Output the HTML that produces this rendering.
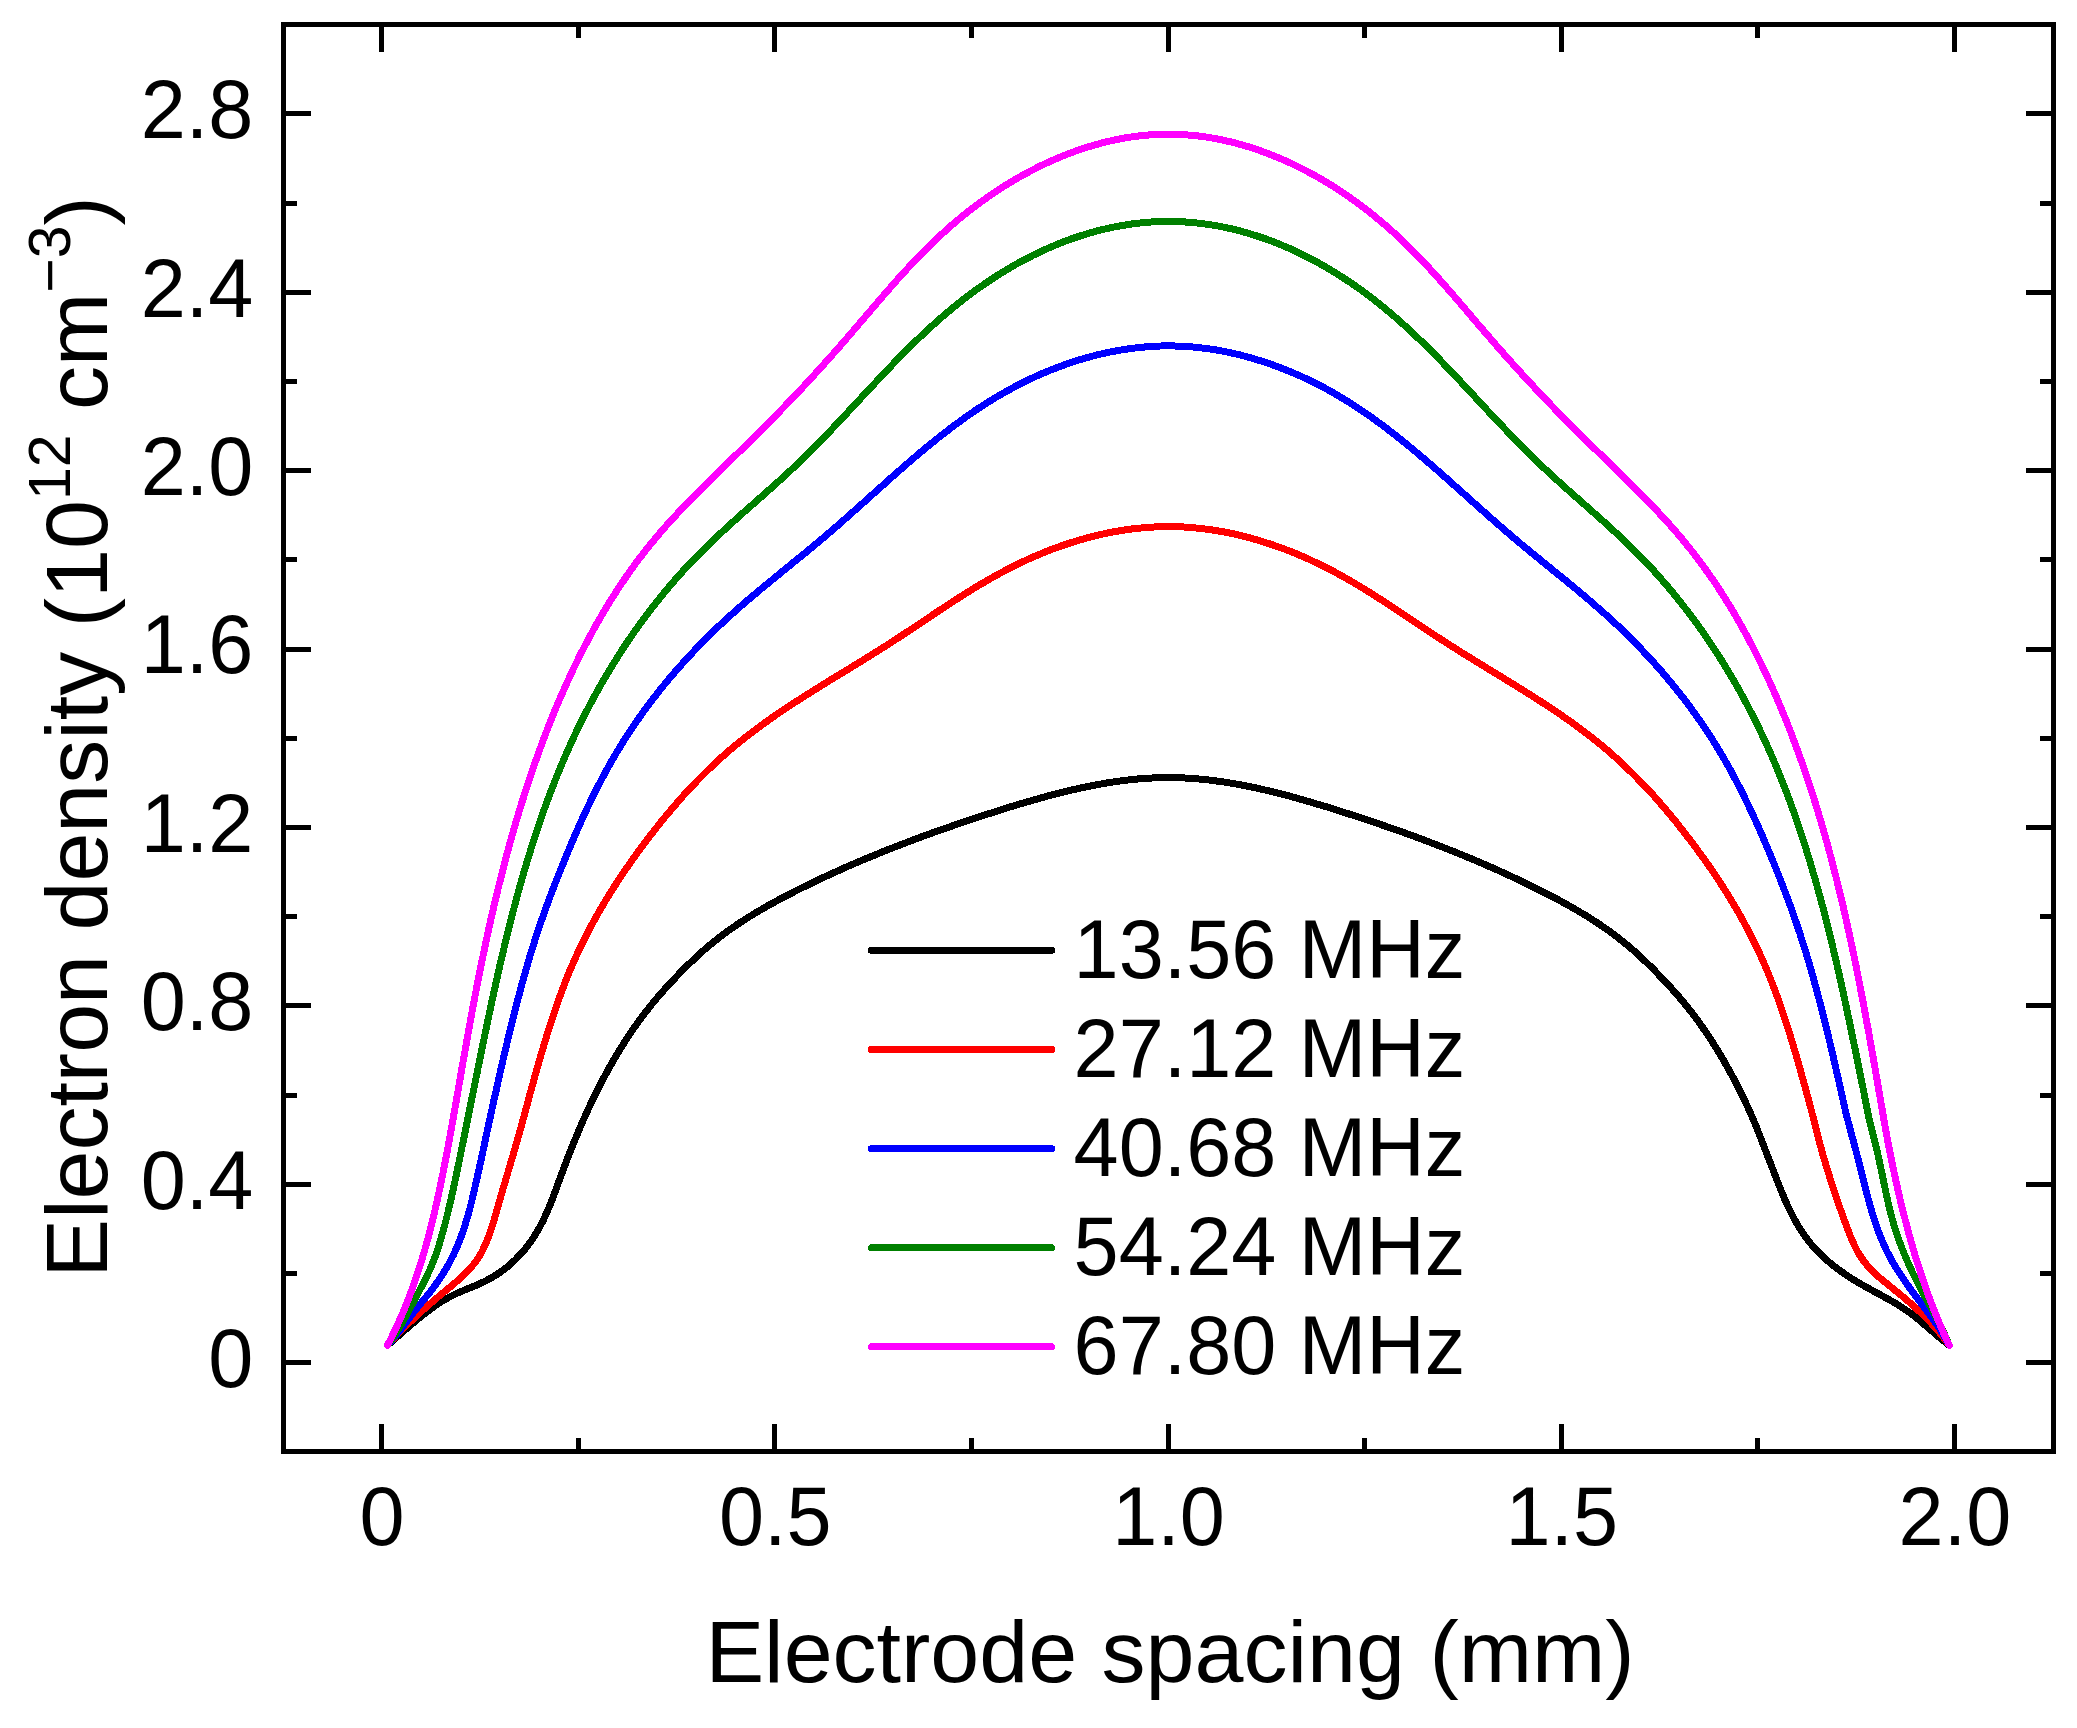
<!DOCTYPE html><html><head><meta charset="utf-8"><title>Electron density</title>
<style>html,body{margin:0;padding:0;background:#fff;overflow:hidden}svg{display:block}text{font-family:"Liberation Sans",sans-serif;fill:#000}</style></head><body>
<svg width="2077" height="1728" viewBox="0 0 2077 1728">
<rect x="0" y="0" width="2077" height="1728" fill="#fff"/>
<path d="M387.5 1345.3C389.3 1343.7 394.6 1339.1 398.1 1336.0C401.7 1332.9 405.2 1329.8 408.7 1326.7C412.3 1323.7 415.9 1320.6 419.5 1317.7C423.2 1314.7 426.9 1311.8 430.7 1309.0C434.5 1306.2 438.3 1303.5 442.3 1301.1C446.3 1298.6 450.5 1296.4 454.7 1294.4C459.0 1292.3 463.4 1290.6 467.7 1288.8C472.0 1287.0 476.4 1285.3 480.7 1283.3C484.9 1281.3 489.2 1279.2 493.2 1276.8C497.2 1274.4 501.1 1271.7 504.8 1268.9C508.5 1266.0 512.1 1262.9 515.4 1259.6C518.8 1256.3 522.0 1252.8 525.0 1249.2C527.9 1245.6 530.7 1241.8 533.3 1237.8C535.9 1233.9 538.2 1229.8 540.5 1225.7C542.7 1221.6 544.7 1217.3 546.6 1213.0C548.5 1208.7 550.2 1204.3 552.0 1200.0C553.7 1195.6 555.3 1191.2 556.9 1186.8C558.6 1182.4 560.2 1177.9 561.8 1173.5C563.5 1169.1 565.1 1164.7 566.8 1160.3C568.5 1156.0 570.2 1151.6 571.9 1147.2C573.7 1142.9 575.5 1138.5 577.3 1134.2C579.1 1129.8 580.9 1125.5 582.8 1121.2C584.7 1116.9 586.7 1112.6 588.6 1108.4C590.6 1104.1 592.6 1099.8 594.7 1095.6C596.8 1091.4 598.9 1087.2 601.0 1083.0C603.2 1078.9 605.4 1074.7 607.7 1070.6C609.9 1066.5 612.3 1062.4 614.6 1058.3C617.0 1054.3 619.5 1050.2 621.9 1046.3C624.4 1042.3 627.0 1038.3 629.6 1034.4C632.2 1030.5 634.9 1026.7 637.7 1022.8C640.4 1019.0 643.2 1015.3 646.1 1011.5C649.0 1007.8 651.9 1004.1 654.9 1000.5C657.9 996.9 661.0 993.4 664.1 989.9C667.3 986.4 670.5 982.9 673.7 979.5C676.9 976.1 680.2 972.7 683.5 969.4C686.8 966.1 690.2 962.8 693.6 959.5C697.0 956.3 700.5 953.1 704.0 950.0C707.6 946.9 711.2 943.9 714.8 941.0C718.5 938.0 722.2 935.2 726.0 932.4C729.8 929.6 733.7 926.9 737.6 924.3C741.5 921.7 745.4 919.1 749.4 916.7C753.4 914.2 757.4 911.8 761.5 909.4C765.6 907.0 769.7 904.7 773.8 902.5C777.9 900.2 782.1 898.0 786.2 895.8C790.4 893.7 794.6 891.5 798.8 889.4C803.0 887.3 807.2 885.3 811.4 883.2C815.7 881.2 819.9 879.1 824.2 877.1C828.4 875.2 832.7 873.2 837.0 871.3C841.3 869.3 845.6 867.4 849.9 865.5C854.2 863.6 858.5 861.8 862.8 860.0C867.2 858.1 871.5 856.3 875.9 854.6C880.2 852.8 884.6 851.0 888.9 849.3C893.3 847.6 897.7 845.8 902.1 844.2C906.5 842.5 910.9 840.8 915.3 839.2C919.7 837.5 924.1 835.9 928.5 834.3C932.9 832.7 937.4 831.1 941.8 829.6C946.2 828.0 950.7 826.5 955.1 824.9C959.5 823.4 964.0 821.9 968.5 820.4C972.9 818.9 977.4 817.4 981.8 816.0C986.3 814.5 990.8 813.1 995.3 811.7C999.7 810.2 1004.2 808.8 1008.7 807.4C1013.2 806.0 1017.7 804.7 1022.2 803.3C1026.7 802.0 1031.2 800.7 1035.8 799.4C1040.3 798.1 1044.8 796.9 1049.4 795.6C1053.9 794.4 1058.4 793.3 1063.0 792.1C1067.6 791.0 1072.1 789.9 1076.7 788.9C1081.3 787.9 1085.9 786.9 1090.5 786.0C1095.1 785.0 1099.8 784.2 1104.4 783.4C1109.0 782.6 1113.7 781.9 1118.3 781.2C1123.0 780.6 1127.7 780.0 1132.3 779.5C1137.0 779.0 1141.7 778.6 1146.4 778.3C1151.1 778.0 1155.8 777.8 1160.5 777.7C1165.2 777.6 1169.9 777.6 1174.6 777.6C1179.3 777.7 1184.0 777.9 1188.7 778.2C1193.3 778.5 1198.0 778.9 1202.7 779.3C1207.4 779.8 1212.1 780.3 1216.7 781.0C1221.4 781.6 1226.0 782.3 1230.7 783.1C1235.3 783.8 1239.9 784.7 1244.5 785.6C1249.2 786.5 1253.8 787.4 1258.3 788.5C1262.9 789.5 1267.5 790.5 1272.1 791.7C1276.6 792.8 1281.2 793.9 1285.7 795.1C1290.3 796.3 1294.8 797.6 1299.3 798.9C1303.9 800.1 1308.4 801.4 1312.9 802.8C1317.4 804.1 1321.9 805.5 1326.4 806.8C1330.9 808.2 1335.4 809.6 1339.9 811.1C1344.3 812.5 1348.8 813.9 1353.3 815.4C1357.7 816.8 1362.2 818.3 1366.7 819.8C1371.1 821.3 1375.6 822.8 1380.0 824.3C1384.5 825.8 1388.9 827.4 1393.4 828.9C1397.8 830.5 1402.2 832.0 1406.6 833.6C1411.1 835.2 1415.5 836.8 1419.9 838.5C1424.3 840.1 1428.7 841.8 1433.1 843.5C1437.5 845.1 1441.9 846.8 1446.2 848.6C1450.6 850.3 1455.0 852.0 1459.3 853.8C1463.7 855.6 1468.0 857.4 1472.3 859.2C1476.7 861.0 1481.0 862.9 1485.3 864.7C1489.6 866.6 1493.9 868.5 1498.2 870.4C1502.5 872.4 1506.8 874.3 1511.0 876.3C1515.3 878.3 1519.5 880.3 1523.8 882.3C1528.0 884.4 1532.2 886.5 1536.4 888.6C1540.6 890.7 1544.8 892.8 1549.0 894.9C1553.2 897.1 1557.3 899.3 1561.5 901.5C1565.6 903.8 1569.7 906.1 1573.8 908.4C1577.9 910.8 1581.9 913.2 1585.9 915.6C1589.9 918.1 1593.9 920.6 1597.8 923.2C1601.7 925.8 1605.6 928.5 1609.4 931.2C1613.2 934.0 1617.0 936.8 1620.6 939.7C1624.3 942.7 1627.9 945.7 1631.5 948.7C1635.0 951.8 1638.5 955.0 1642.0 958.2C1645.4 961.4 1648.8 964.7 1652.1 968.0C1655.4 971.3 1658.7 974.7 1661.9 978.1C1665.2 981.5 1668.4 984.9 1671.5 988.4C1674.7 991.9 1677.8 995.4 1680.8 999.0C1683.9 1002.6 1686.8 1006.3 1689.7 1010.0C1692.6 1013.7 1695.4 1017.4 1698.2 1021.2C1701.0 1025.0 1703.7 1028.9 1706.3 1032.8C1708.9 1036.7 1711.5 1040.6 1714.0 1044.6C1716.5 1048.6 1719.0 1052.6 1721.4 1056.6C1723.7 1060.7 1726.1 1064.8 1728.4 1068.9C1730.6 1073.0 1732.9 1077.1 1735.1 1081.3C1737.2 1085.4 1739.3 1089.5 1741.4 1093.7C1743.4 1097.9 1745.5 1102.2 1747.5 1106.4C1749.4 1110.7 1751.3 1115.0 1753.2 1119.3C1755.0 1123.6 1756.8 1128.0 1758.5 1132.4C1760.2 1136.7 1761.9 1141.1 1763.6 1145.5C1765.3 1149.9 1767.0 1154.3 1768.7 1158.7C1770.4 1163.0 1772.1 1167.4 1773.8 1171.8C1775.4 1176.2 1777.1 1180.6 1778.9 1185.0C1780.6 1189.3 1782.4 1193.7 1784.2 1198.0C1786.1 1202.3 1788.0 1206.6 1790.1 1210.8C1792.2 1215.1 1794.3 1219.2 1796.7 1223.3C1799.0 1227.4 1801.5 1231.4 1804.2 1235.2C1806.9 1239.0 1809.8 1242.8 1812.9 1246.3C1816.0 1249.9 1819.3 1253.2 1822.7 1256.4C1826.1 1259.7 1829.7 1262.7 1833.4 1265.6C1837.1 1268.6 1840.9 1271.3 1844.8 1274.0C1848.6 1276.6 1852.6 1279.2 1856.6 1281.6C1860.7 1284.0 1864.8 1286.3 1868.9 1288.6C1873.0 1290.9 1877.1 1293.1 1881.3 1295.3C1885.4 1297.6 1889.5 1299.8 1893.6 1302.2C1897.6 1304.6 1901.6 1307.1 1905.5 1309.7C1909.4 1312.4 1913.1 1315.2 1916.8 1318.2C1920.5 1321.1 1924.0 1324.2 1927.6 1327.3C1931.1 1330.3 1934.6 1333.5 1938.2 1336.5C1941.8 1339.5 1947.4 1343.8 1949.2 1345.3" fill="none" stroke="#000000" stroke-width="7.0" stroke-linecap="round" stroke-linejoin="round" shape-rendering="crispEdges"/>
<path d="M387.5 1345.3C389.1 1343.6 393.8 1338.3 397.1 1334.9C400.4 1331.5 403.7 1328.1 407.1 1324.9C410.4 1321.6 413.9 1318.3 417.4 1315.2C420.8 1312.0 424.4 1308.8 427.9 1305.7C431.4 1302.6 435.0 1299.6 438.6 1296.5C442.2 1293.5 445.9 1290.5 449.5 1287.5C453.1 1284.4 456.8 1281.5 460.3 1278.3C463.7 1275.1 467.2 1271.9 470.3 1268.4C473.4 1264.8 476.3 1261.1 478.8 1257.1C481.3 1253.1 483.4 1248.9 485.3 1244.6C487.3 1240.3 488.8 1235.8 490.4 1231.3C491.9 1226.9 493.3 1222.4 494.7 1217.9C496.0 1213.4 497.3 1208.8 498.6 1204.3C499.9 1199.7 501.2 1195.2 502.5 1190.7C503.8 1186.2 505.2 1181.6 506.5 1177.1C507.8 1172.6 509.2 1168.1 510.5 1163.6C511.9 1159.0 513.2 1154.5 514.5 1150.0C515.8 1145.5 517.1 1140.9 518.4 1136.4C519.7 1131.9 520.9 1127.3 522.2 1122.8C523.4 1118.2 524.7 1113.7 525.9 1109.1C527.2 1104.6 528.4 1100.0 529.6 1095.5C530.9 1090.9 532.1 1086.4 533.4 1081.8C534.6 1077.3 535.9 1072.8 537.2 1068.2C538.5 1063.7 539.8 1059.1 541.1 1054.6C542.4 1050.1 543.7 1045.6 545.1 1041.1C546.5 1036.5 547.8 1032.0 549.3 1027.5C550.7 1023.1 552.2 1018.6 553.7 1014.1C555.2 1009.6 556.7 1005.2 558.3 1000.7C559.9 996.3 561.5 991.9 563.2 987.5C564.8 983.1 566.6 978.7 568.3 974.3C570.1 969.9 572.0 965.6 573.9 961.3C575.8 957.0 577.7 952.7 579.8 948.4C581.8 944.2 583.9 939.9 586.0 935.7C588.1 931.5 590.3 927.4 592.6 923.2C594.8 919.1 597.2 915.0 599.5 910.9C601.9 906.8 604.3 902.7 606.7 898.7C609.2 894.7 611.7 890.7 614.2 886.7C616.8 882.8 619.4 878.8 622.0 874.9C624.6 871.0 627.3 867.1 630.0 863.2C632.7 859.4 635.4 855.5 638.2 851.7C641.0 847.9 643.8 844.1 646.6 840.4C649.5 836.6 652.4 832.9 655.3 829.2C658.2 825.5 661.1 821.8 664.1 818.1C667.1 814.5 670.1 810.9 673.2 807.3C676.3 803.7 679.4 800.2 682.5 796.6C685.7 793.1 688.8 789.7 692.1 786.2C695.3 782.8 698.6 779.4 701.9 776.1C705.2 772.7 708.6 769.4 712.0 766.2C715.4 762.9 718.9 759.7 722.4 756.6C725.9 753.5 729.5 750.4 733.1 747.3C736.7 744.3 740.4 741.3 744.1 738.4C747.8 735.5 751.5 732.6 755.3 729.8C759.1 727.0 762.9 724.2 766.7 721.5C770.6 718.7 774.4 716.0 778.3 713.4C782.2 710.7 786.2 708.1 790.1 705.5C794.0 702.9 798.0 700.4 802.0 697.8C805.9 695.3 809.9 692.8 813.9 690.3C817.9 687.8 821.9 685.3 825.9 682.8C829.9 680.3 834.0 677.9 838.0 675.4C842.0 673.0 846.0 670.5 850.1 668.1C854.1 665.6 858.1 663.1 862.1 660.7C866.1 658.2 870.1 655.7 874.1 653.2C878.1 650.7 882.1 648.2 886.1 645.7C890.1 643.1 894.0 640.6 898.0 638.0C901.9 635.4 905.9 632.8 909.8 630.2C913.7 627.6 917.6 625.0 921.6 622.4C925.5 619.8 929.4 617.1 933.3 614.5C937.3 611.9 941.2 609.3 945.1 606.7C949.1 604.1 953.0 601.5 957.0 599.0C960.9 596.4 964.9 593.9 968.9 591.4C972.9 588.9 977.0 586.5 981.0 584.1C985.1 581.7 989.1 579.3 993.3 577.0C997.4 574.7 1001.5 572.4 1005.7 570.3C1009.9 568.1 1014.1 565.9 1018.3 563.9C1022.6 561.8 1026.8 559.8 1031.1 557.9C1035.4 556.0 1039.8 554.2 1044.2 552.4C1048.5 550.6 1052.9 548.9 1057.4 547.3C1061.8 545.7 1066.3 544.2 1070.7 542.8C1075.2 541.3 1079.7 539.9 1084.3 538.7C1088.8 537.4 1093.4 536.2 1098.0 535.1C1102.6 534.1 1107.2 533.1 1111.8 532.2C1116.4 531.3 1121.1 530.5 1125.7 529.8C1130.4 529.1 1135.1 528.5 1139.8 528.1C1144.5 527.6 1149.2 527.2 1153.9 527.0C1158.6 526.7 1163.3 526.6 1168.0 526.6C1172.7 526.6 1177.5 526.7 1182.2 526.9C1186.9 527.2 1191.6 527.5 1196.3 528.0C1201.0 528.4 1205.6 529.0 1210.3 529.7C1215.0 530.3 1219.6 531.1 1224.3 532.0C1228.9 532.9 1233.5 533.8 1238.1 534.9C1242.7 536.0 1247.2 537.2 1251.8 538.4C1256.3 539.7 1260.9 541.0 1265.3 542.5C1269.8 543.9 1274.3 545.4 1278.7 547.0C1283.2 548.6 1287.6 550.3 1292.0 552.0C1296.3 553.8 1300.7 555.6 1305.0 557.5C1309.3 559.4 1313.6 561.4 1317.8 563.5C1322.1 565.5 1326.3 567.6 1330.5 569.8C1334.6 572.0 1338.8 574.2 1342.9 576.5C1347.0 578.8 1351.1 581.2 1355.2 583.6C1359.2 586.0 1363.2 588.4 1367.3 590.9C1371.3 593.4 1375.2 595.9 1379.2 598.5C1383.2 601.0 1387.1 603.6 1391.1 606.2C1395.0 608.8 1398.9 611.4 1402.9 614.0C1406.8 616.6 1410.7 619.2 1414.6 621.8C1418.6 624.5 1422.5 627.1 1426.4 629.7C1430.3 632.3 1434.3 634.9 1438.2 637.5C1442.1 640.1 1446.1 642.6 1450.1 645.2C1454.1 647.7 1458.0 650.2 1462.0 652.7C1466.0 655.2 1470.0 657.7 1474.1 660.2C1478.1 662.6 1482.1 665.1 1486.1 667.6C1490.1 670.0 1494.2 672.5 1498.2 674.9C1502.2 677.4 1506.2 679.8 1510.2 682.3C1514.3 684.8 1518.3 687.3 1522.3 689.8C1526.3 692.3 1530.3 694.8 1534.2 697.3C1538.2 699.9 1542.2 702.4 1546.1 705.0C1550.0 707.6 1554.0 710.2 1557.9 712.8C1561.8 715.5 1565.6 718.2 1569.5 720.9C1573.3 723.6 1577.2 726.4 1580.9 729.2C1584.7 732.0 1588.5 734.9 1592.2 737.8C1595.9 740.7 1599.5 743.7 1603.2 746.7C1606.8 749.7 1610.3 752.8 1613.9 756.0C1617.4 759.1 1620.9 762.3 1624.3 765.5C1627.7 768.8 1631.1 772.1 1634.4 775.4C1637.7 778.7 1641.0 782.1 1644.3 785.5C1647.5 789.0 1650.7 792.4 1653.9 795.9C1657.0 799.4 1660.1 803.0 1663.2 806.6C1666.3 810.1 1669.3 813.8 1672.3 817.4C1675.3 821.0 1678.2 824.7 1681.1 828.4C1684.0 832.1 1686.9 835.9 1689.8 839.6C1692.6 843.4 1695.4 847.1 1698.2 851.0C1701.0 854.8 1703.8 858.6 1706.5 862.4C1709.2 866.3 1711.9 870.2 1714.5 874.1C1717.1 878.0 1719.7 881.9 1722.3 885.9C1724.8 889.9 1727.3 893.9 1729.8 897.9C1732.2 901.9 1734.6 906.0 1737.0 910.0C1739.4 914.1 1741.7 918.2 1743.9 922.4C1746.2 926.5 1748.4 930.7 1750.6 934.9C1752.7 939.1 1754.8 943.3 1756.8 947.6C1758.9 951.8 1760.8 956.1 1762.7 960.4C1764.6 964.7 1766.5 969.1 1768.3 973.4C1770.1 977.8 1771.8 982.2 1773.5 986.6C1775.2 991.0 1776.8 995.4 1778.4 999.8C1780.0 1004.3 1781.5 1008.7 1783.0 1013.2C1784.5 1017.7 1786.0 1022.1 1787.4 1026.6C1788.9 1031.1 1790.3 1035.6 1791.6 1040.1C1793.0 1044.6 1794.3 1049.2 1795.7 1053.7C1797.0 1058.2 1798.3 1062.8 1799.6 1067.3C1800.8 1071.8 1802.1 1076.4 1803.4 1080.9C1804.6 1085.5 1805.9 1090.0 1807.1 1094.5C1808.3 1099.1 1809.6 1103.6 1810.8 1108.2C1812.0 1112.7 1813.1 1117.3 1814.3 1121.9C1815.5 1126.4 1816.6 1131.0 1817.7 1135.6C1818.9 1140.2 1820.1 1144.7 1821.4 1149.3C1822.6 1153.8 1824.0 1158.3 1825.3 1162.8C1826.7 1167.4 1828.1 1171.9 1829.5 1176.4C1830.9 1180.9 1832.3 1185.4 1833.8 1189.8C1835.3 1194.3 1836.8 1198.8 1838.3 1203.2C1839.9 1207.7 1841.4 1212.1 1843.0 1216.6C1844.6 1221.0 1846.2 1225.4 1847.9 1229.8C1849.6 1234.2 1851.3 1238.7 1853.3 1242.9C1855.3 1247.2 1857.4 1251.5 1859.9 1255.4C1862.4 1259.4 1865.2 1263.2 1868.3 1266.8C1871.4 1270.3 1874.9 1273.5 1878.4 1276.6C1881.9 1279.8 1885.7 1282.7 1889.3 1285.6C1892.9 1288.6 1896.6 1291.6 1900.3 1294.6C1903.9 1297.6 1907.5 1300.6 1911.0 1303.8C1914.5 1306.9 1918.0 1310.1 1921.4 1313.3C1924.8 1316.6 1928.2 1320.0 1931.4 1323.4C1934.6 1326.9 1937.7 1330.4 1940.7 1334.0C1943.7 1337.7 1947.8 1343.4 1949.3 1345.3" fill="none" stroke="#ff0000" stroke-width="7.0" stroke-linecap="round" stroke-linejoin="round" shape-rendering="crispEdges"/>
<path d="M387.5 1345.3C389.0 1343.5 393.8 1338.3 396.7 1334.6C399.7 1331.0 402.4 1327.1 405.3 1323.4C408.1 1319.6 410.9 1315.8 413.8 1312.1C416.7 1308.4 419.7 1304.8 422.6 1301.2C425.6 1297.5 428.6 1293.9 431.5 1290.2C434.3 1286.4 437.1 1282.6 439.7 1278.7C442.3 1274.8 444.8 1270.8 447.2 1266.8C449.5 1262.7 451.7 1258.5 453.7 1254.3C455.7 1250.0 457.6 1245.7 459.3 1241.4C461.1 1237.0 462.6 1232.5 464.1 1228.1C465.6 1223.6 466.9 1219.1 468.2 1214.6C469.5 1210.1 470.7 1205.5 471.8 1200.9C472.9 1196.4 474.0 1191.8 475.0 1187.2C476.1 1182.6 477.1 1178.0 478.1 1173.4C479.1 1168.9 480.1 1164.3 481.1 1159.7C482.1 1155.1 483.1 1150.5 484.1 1145.9C485.1 1141.3 486.0 1136.7 487.0 1132.1C488.0 1127.5 489.0 1122.9 490.0 1118.3C491.0 1113.7 492.0 1109.1 493.0 1104.5C494.0 1099.9 495.0 1095.3 496.1 1090.8C497.1 1086.2 498.1 1081.6 499.1 1077.0C500.2 1072.4 501.2 1067.8 502.3 1063.2C503.3 1058.7 504.4 1054.1 505.5 1049.5C506.6 1044.9 507.6 1040.4 508.7 1035.8C509.8 1031.2 511.0 1026.6 512.1 1022.1C513.2 1017.5 514.4 1013.0 515.5 1008.4C516.7 1003.9 517.9 999.3 519.1 994.8C520.3 990.2 521.5 985.7 522.8 981.1C524.0 976.6 525.3 972.1 526.6 967.6C527.9 963.0 529.2 958.5 530.6 954.0C532.0 949.5 533.4 945.1 534.8 940.6C536.2 936.1 537.7 931.6 539.2 927.2C540.7 922.7 542.3 918.3 543.8 913.9C545.4 909.4 547.0 905.0 548.6 900.6C550.3 896.2 551.9 891.8 553.6 887.4C555.3 883.0 557.0 878.6 558.8 874.3C560.5 869.9 562.3 865.5 564.1 861.2C565.8 856.8 567.6 852.5 569.5 848.2C571.3 843.8 573.1 839.5 575.0 835.2C576.9 830.9 578.8 826.6 580.7 822.3C582.7 818.0 584.6 813.8 586.6 809.5C588.6 805.2 590.7 801.0 592.7 796.8C594.8 792.6 596.9 788.4 599.1 784.2C601.2 780.0 603.4 775.8 605.7 771.7C607.9 767.6 610.2 763.5 612.6 759.4C614.9 755.3 617.3 751.3 619.8 747.3C622.2 743.3 624.7 739.3 627.3 735.4C629.8 731.4 632.5 727.5 635.1 723.6C637.8 719.7 640.5 715.9 643.2 712.1C646.0 708.3 648.8 704.5 651.6 700.8C654.5 697.0 657.4 693.3 660.3 689.6C663.2 686.0 666.2 682.3 669.2 678.7C672.3 675.1 675.3 671.6 678.4 668.0C681.5 664.5 684.7 661.0 687.9 657.5C691.0 654.1 694.3 650.7 697.5 647.3C700.8 643.9 704.1 640.5 707.4 637.2C710.7 633.9 714.1 630.6 717.5 627.4C720.9 624.1 724.4 620.9 727.8 617.8C731.3 614.6 734.8 611.5 738.3 608.4C741.9 605.2 745.4 602.2 749.0 599.1C752.6 596.1 756.2 593.1 759.8 590.0C763.4 587.0 767.0 584.0 770.7 581.1C774.3 578.1 778.0 575.1 781.6 572.1C785.2 569.2 788.9 566.2 792.5 563.2C796.2 560.3 799.8 557.3 803.5 554.3C807.1 551.3 810.7 548.4 814.3 545.3C818.0 542.3 821.6 539.3 825.1 536.3C828.7 533.2 832.3 530.1 835.8 527.1C839.4 524.0 842.9 520.9 846.4 517.8C849.9 514.6 853.5 511.5 857.0 508.4C860.5 505.2 864.0 502.1 867.5 499.0C871.0 495.8 874.5 492.7 878.0 489.6C881.5 486.4 885.0 483.3 888.5 480.2C892.0 477.0 895.5 473.9 899.1 470.8C902.6 467.7 906.1 464.6 909.7 461.6C913.3 458.5 916.8 455.5 920.4 452.4C924.1 449.4 927.7 446.4 931.3 443.4C935.0 440.5 938.6 437.5 942.3 434.6C946.0 431.8 949.8 428.9 953.5 426.1C957.3 423.3 961.1 420.5 964.9 417.7C968.8 415.0 972.6 412.3 976.5 409.7C980.4 407.1 984.4 404.5 988.4 402.0C992.3 399.5 996.4 397.1 1000.4 394.7C1004.5 392.4 1008.6 390.1 1012.7 387.9C1016.9 385.6 1021.0 383.5 1025.3 381.4C1029.5 379.3 1033.7 377.3 1038.0 375.4C1042.3 373.5 1046.7 371.7 1051.0 369.9C1055.4 368.2 1059.8 366.5 1064.2 364.9C1068.6 363.3 1073.1 361.8 1077.6 360.4C1082.1 359.0 1086.6 357.7 1091.1 356.5C1095.7 355.3 1100.2 354.2 1104.8 353.1C1109.4 352.1 1114.0 351.2 1118.6 350.4C1123.3 349.6 1127.9 348.9 1132.6 348.3C1137.3 347.7 1141.9 347.2 1146.6 346.8C1151.3 346.4 1156.0 346.2 1160.7 346.0C1165.4 345.9 1170.1 345.9 1174.8 346.0C1179.5 346.1 1184.2 346.3 1188.9 346.7C1193.6 347.0 1198.3 347.5 1202.9 348.1C1207.6 348.6 1212.2 349.3 1216.9 350.1C1221.5 350.9 1226.1 351.8 1230.7 352.8C1235.3 353.8 1239.9 354.9 1244.4 356.1C1249.0 357.3 1253.5 358.6 1258.0 360.0C1262.5 361.4 1267.0 362.8 1271.4 364.4C1275.8 366.0 1280.2 367.6 1284.6 369.4C1289.0 371.1 1293.3 372.9 1297.6 374.8C1301.9 376.7 1306.2 378.7 1310.4 380.7C1314.6 382.8 1318.8 384.9 1323.0 387.1C1327.1 389.4 1331.2 391.6 1335.3 394.0C1339.4 396.3 1343.4 398.8 1347.4 401.3C1351.4 403.7 1355.3 406.3 1359.2 408.9C1363.1 411.5 1367.0 414.2 1370.9 416.9C1374.7 419.6 1378.5 422.4 1382.3 425.2C1386.0 428.0 1389.8 430.8 1393.5 433.7C1397.2 436.6 1400.9 439.5 1404.5 442.5C1408.2 445.5 1411.8 448.5 1415.4 451.5C1419.0 454.5 1422.6 457.5 1426.2 460.6C1429.7 463.7 1433.3 466.7 1436.8 469.8C1440.4 472.9 1443.9 476.0 1447.4 479.2C1450.9 482.3 1454.4 485.4 1457.9 488.6C1461.4 491.7 1464.9 494.8 1468.4 498.0C1471.9 501.1 1475.4 504.2 1478.9 507.4C1482.4 510.5 1485.9 513.6 1489.5 516.8C1493.0 519.9 1496.5 523.0 1500.1 526.1C1503.6 529.2 1507.2 532.2 1510.7 535.3C1514.3 538.3 1517.9 541.4 1521.5 544.4C1525.1 547.4 1528.7 550.4 1532.4 553.4C1536.0 556.4 1539.7 559.3 1543.3 562.3C1546.9 565.3 1550.6 568.2 1554.2 571.2C1557.9 574.2 1561.5 577.1 1565.2 580.1C1568.8 583.1 1572.4 586.1 1576.1 589.1C1579.7 592.1 1583.3 595.1 1586.9 598.2C1590.4 601.2 1594.0 604.3 1597.5 607.4C1601.1 610.5 1604.6 613.6 1608.1 616.7C1611.5 619.9 1615.0 623.1 1618.4 626.3C1621.8 629.6 1625.2 632.8 1628.5 636.2C1631.9 639.5 1635.2 642.8 1638.4 646.2C1641.7 649.6 1644.9 653.0 1648.1 656.4C1651.3 659.9 1654.5 663.4 1657.6 666.9C1660.7 670.4 1663.8 674.0 1666.8 677.6C1669.8 681.2 1672.8 684.8 1675.8 688.5C1678.7 692.1 1681.6 695.8 1684.5 699.6C1687.3 703.3 1690.1 707.1 1692.9 710.9C1695.7 714.7 1698.4 718.5 1701.0 722.4C1703.7 726.3 1706.3 730.2 1708.9 734.1C1711.5 738.0 1714.0 742.0 1716.4 746.0C1718.9 750.0 1721.3 754.1 1723.7 758.1C1726.0 762.2 1728.3 766.3 1730.6 770.4C1732.9 774.5 1735.1 778.7 1737.2 782.9C1739.4 787.0 1741.5 791.2 1743.6 795.4C1745.7 799.7 1747.7 803.9 1749.7 808.1C1751.7 812.4 1753.7 816.7 1755.7 820.9C1757.6 825.2 1759.5 829.5 1761.4 833.8C1763.3 838.1 1765.1 842.5 1766.9 846.8C1768.8 851.1 1770.6 855.5 1772.4 859.8C1774.2 864.2 1775.9 868.5 1777.7 872.9C1779.4 877.2 1781.1 881.6 1782.8 886.0C1784.5 890.4 1786.2 894.8 1787.8 899.2C1789.5 903.6 1791.1 908.0 1792.7 912.5C1794.2 916.9 1795.8 921.3 1797.3 925.8C1798.8 930.2 1800.3 934.7 1801.7 939.2C1803.2 943.6 1804.6 948.1 1806.0 952.6C1807.3 957.1 1808.7 961.6 1810.0 966.1C1811.3 970.6 1812.6 975.2 1813.8 979.7C1815.1 984.2 1816.3 988.8 1817.5 993.3C1818.7 997.9 1819.9 1002.4 1821.1 1007.0C1822.3 1011.5 1823.4 1016.1 1824.5 1020.6C1825.7 1025.2 1826.8 1029.8 1827.9 1034.3C1829.0 1038.9 1830.1 1043.5 1831.2 1048.0C1832.3 1052.6 1833.3 1057.2 1834.4 1061.8C1835.4 1066.4 1836.5 1071.0 1837.5 1075.5C1838.6 1080.1 1839.6 1084.7 1840.6 1089.3C1841.7 1093.8 1842.6 1098.2 1843.6 1102.7C1844.6 1107.2 1845.7 1111.9 1846.8 1116.4C1848.0 1121.0 1849.2 1125.5 1850.4 1130.1C1851.6 1134.6 1852.9 1139.2 1854.1 1143.7C1855.3 1148.2 1856.5 1152.8 1857.6 1157.3C1858.8 1161.9 1860.0 1166.5 1861.1 1171.0C1862.3 1175.6 1863.4 1180.1 1864.6 1184.7C1865.7 1189.2 1866.9 1193.8 1868.1 1198.3C1869.3 1202.9 1870.6 1207.4 1871.9 1211.9C1873.3 1216.4 1874.7 1220.9 1876.2 1225.4C1877.8 1229.8 1879.4 1234.2 1881.2 1238.6C1883.0 1242.9 1884.9 1247.2 1887.0 1251.4C1889.1 1255.6 1891.3 1259.7 1893.7 1263.8C1896.1 1267.8 1898.6 1271.8 1901.2 1275.7C1903.8 1279.7 1906.5 1283.5 1909.2 1287.3C1912.0 1291.2 1914.8 1294.9 1917.6 1298.7C1920.4 1302.5 1923.3 1306.2 1926.1 1309.9C1928.9 1313.7 1931.8 1317.5 1934.5 1321.3C1937.2 1325.1 1939.8 1329.0 1942.3 1333.0C1944.8 1337.0 1948.1 1343.2 1949.3 1345.3" fill="none" stroke="#0000ff" stroke-width="7.0" stroke-linecap="round" stroke-linejoin="round" shape-rendering="crispEdges"/>
<path d="M387.5 1345.3C388.9 1343.4 393.0 1337.7 395.6 1333.7C398.1 1329.8 400.5 1325.7 402.8 1321.6C405.2 1317.6 407.4 1313.4 409.6 1309.3C411.8 1305.1 414.0 1301.0 416.2 1296.8C418.4 1292.6 420.6 1288.5 422.8 1284.3C424.9 1280.1 427.0 1275.9 429.0 1271.6C430.9 1267.4 432.7 1263.0 434.4 1258.6C436.1 1254.2 437.5 1249.8 439.0 1245.3C440.4 1240.8 441.7 1236.3 442.9 1231.7C444.2 1227.2 445.4 1222.7 446.5 1218.1C447.7 1213.5 448.8 1209.0 449.8 1204.4C450.9 1199.8 451.9 1195.2 453.0 1190.6C454.0 1186.0 454.9 1181.4 455.9 1176.8C456.9 1172.2 457.8 1167.6 458.8 1163.0C459.7 1158.4 460.7 1153.8 461.6 1149.2C462.5 1144.6 463.5 1140.0 464.4 1135.4C465.4 1130.8 466.3 1126.2 467.2 1121.6C468.2 1116.9 469.1 1112.3 470.0 1107.7C471.0 1103.1 471.9 1098.5 472.8 1093.9C473.8 1089.3 474.7 1084.7 475.6 1080.1C476.6 1075.5 477.5 1070.9 478.4 1066.2C479.4 1061.6 480.3 1057.0 481.3 1052.4C482.2 1047.8 483.1 1043.2 484.1 1038.6C485.0 1034.0 486.0 1029.4 487.0 1024.8C487.9 1020.2 488.9 1015.6 489.9 1011.0C490.8 1006.4 491.8 1001.8 492.8 997.2C493.8 992.6 494.8 988.0 495.9 983.4C496.9 978.8 497.9 974.2 498.9 969.7C500.0 965.1 501.0 960.5 502.1 955.9C503.2 951.3 504.3 946.8 505.4 942.2C506.5 937.6 507.6 933.0 508.7 928.5C509.9 923.9 511.0 919.4 512.2 914.8C513.4 910.3 514.6 905.7 515.8 901.2C517.0 896.6 518.3 892.1 519.5 887.6C520.8 883.0 522.1 878.5 523.4 874.0C524.7 869.5 526.0 865.0 527.4 860.5C528.8 856.0 530.2 851.5 531.6 847.0C533.0 842.5 534.4 838.0 535.9 833.6C537.4 829.1 538.9 824.7 540.4 820.2C542.0 815.8 543.5 811.3 545.1 806.9C546.7 802.5 548.4 798.1 550.0 793.7C551.7 789.3 553.4 784.9 555.1 780.5C556.9 776.2 558.6 771.8 560.4 767.5C562.2 763.1 564.1 758.8 566.0 754.5C567.9 750.2 569.8 745.9 571.7 741.6C573.7 737.3 575.7 733.1 577.7 728.8C579.8 724.6 581.9 720.4 584.0 716.2C586.1 712.0 588.3 707.8 590.5 703.7C592.7 699.5 594.9 695.4 597.2 691.3C599.5 687.2 601.8 683.1 604.2 679.0C606.6 675.0 609.0 670.9 611.4 666.9C613.9 662.9 616.4 658.9 618.9 654.9C621.4 651.0 624.0 647.0 626.6 643.1C629.2 639.2 631.9 635.4 634.6 631.5C637.3 627.7 640.0 623.8 642.8 620.1C645.6 616.3 648.5 612.5 651.3 608.8C654.2 605.1 657.1 601.4 660.1 597.7C663.0 594.1 666.0 590.4 669.1 586.8C672.1 583.3 675.2 579.7 678.3 576.2C681.4 572.7 684.6 569.2 687.8 565.8C691.0 562.3 694.3 558.9 697.6 555.6C700.9 552.2 704.2 548.9 707.6 545.6C710.9 542.3 714.3 539.1 717.8 535.9C721.2 532.7 724.7 529.5 728.1 526.3C731.6 523.2 735.1 520.0 738.6 516.9C742.1 513.7 745.6 510.6 749.2 507.5C752.7 504.4 756.2 501.3 759.7 498.2C763.3 495.1 766.8 492.0 770.3 488.8C773.8 485.7 777.3 482.6 780.8 479.4C784.3 476.2 787.7 473.0 791.2 469.8C794.6 466.6 798.0 463.4 801.4 460.1C804.8 456.8 808.1 453.5 811.4 450.2C814.8 446.9 818.0 443.5 821.3 440.2C824.6 436.8 827.9 433.4 831.1 430.0C834.4 426.6 837.6 423.2 840.8 419.7C844.0 416.3 847.2 412.9 850.4 409.4C853.6 406.0 856.8 402.5 860.0 399.1C863.2 395.7 866.4 392.2 869.6 388.8C872.9 385.3 876.1 381.9 879.3 378.5C882.5 375.0 885.7 371.6 889.0 368.2C892.2 364.8 895.5 361.4 898.8 358.1C902.1 354.7 905.4 351.4 908.7 348.1C912.1 344.8 915.4 341.5 918.8 338.2C922.2 335.0 925.6 331.7 929.1 328.6C932.6 325.4 936.1 322.2 939.6 319.1C943.1 316.0 946.7 313.0 950.3 310.0C953.9 307.0 957.6 304.0 961.3 301.1C965.0 298.2 968.7 295.3 972.5 292.5C976.3 289.8 980.1 287.0 984.0 284.4C987.9 281.7 991.8 279.1 995.7 276.5C999.7 274.0 1003.7 271.5 1007.7 269.1C1011.8 266.7 1015.8 264.4 1020.0 262.1C1024.1 259.9 1028.3 257.7 1032.5 255.6C1036.7 253.5 1040.9 251.4 1045.2 249.5C1049.5 247.6 1053.8 245.7 1058.2 244.0C1062.5 242.2 1066.9 240.5 1071.4 238.9C1075.8 237.4 1080.2 235.9 1084.7 234.5C1089.2 233.1 1093.8 231.8 1098.3 230.6C1102.9 229.5 1107.4 228.4 1112.0 227.4C1116.6 226.5 1121.3 225.6 1125.9 224.9C1130.6 224.1 1135.2 223.5 1139.9 223.0C1144.6 222.5 1149.3 222.1 1153.9 221.8C1158.6 221.5 1163.3 221.4 1168.0 221.4C1172.7 221.4 1177.5 221.5 1182.1 221.8C1186.8 222.0 1191.5 222.4 1196.2 222.9C1200.9 223.4 1205.5 224.0 1210.2 224.7C1214.8 225.4 1219.5 226.3 1224.1 227.2C1228.7 228.2 1233.3 229.2 1237.8 230.4C1242.4 231.6 1246.9 232.9 1251.4 234.2C1255.9 235.6 1260.4 237.1 1264.8 238.6C1269.2 240.2 1273.6 241.9 1278.0 243.6C1282.3 245.4 1286.7 247.2 1291.0 249.1C1295.3 251.1 1299.5 253.1 1303.7 255.2C1307.9 257.3 1312.1 259.4 1316.2 261.7C1320.4 263.9 1324.4 266.3 1328.5 268.7C1332.5 271.0 1336.5 273.5 1340.5 276.0C1344.5 278.6 1348.4 281.2 1352.3 283.8C1356.1 286.5 1360.0 289.2 1363.8 292.0C1367.6 294.8 1371.3 297.6 1375.0 300.5C1378.7 303.4 1382.4 306.4 1386.0 309.4C1389.6 312.4 1393.2 315.4 1396.7 318.5C1400.3 321.6 1403.8 324.8 1407.2 327.9C1410.7 331.1 1414.1 334.3 1417.5 337.6C1420.9 340.8 1424.3 344.1 1427.6 347.4C1431.0 350.7 1434.3 354.1 1437.6 357.4C1440.9 360.8 1444.1 364.2 1447.4 367.6C1450.6 371.0 1453.9 374.4 1457.1 377.8C1460.3 381.2 1463.5 384.7 1466.7 388.1C1469.9 391.5 1473.1 395.0 1476.3 398.4C1479.5 401.9 1482.7 405.3 1485.9 408.8C1489.2 412.2 1492.4 415.7 1495.6 419.1C1498.8 422.5 1502.0 425.9 1505.3 429.3C1508.5 432.7 1511.8 436.1 1515.0 439.5C1518.3 442.9 1521.6 446.2 1524.9 449.6C1528.3 452.9 1531.6 456.2 1535.0 459.5C1538.3 462.7 1541.7 466.0 1545.2 469.2C1548.6 472.4 1552.1 475.6 1555.5 478.8C1559.0 481.9 1562.5 485.1 1566.0 488.2C1569.5 491.3 1573.1 494.5 1576.6 497.6C1580.1 500.7 1583.6 503.8 1587.2 506.9C1590.7 510.0 1594.2 513.1 1597.7 516.3C1601.2 519.4 1604.7 522.5 1608.2 525.7C1611.7 528.9 1615.1 532.1 1618.6 535.3C1622.0 538.5 1625.4 541.7 1628.8 545.0C1632.2 548.3 1635.5 551.6 1638.8 554.9C1642.1 558.3 1645.4 561.7 1648.6 565.1C1651.8 568.5 1655.0 572.0 1658.1 575.5C1661.2 579.0 1664.3 582.6 1667.4 586.2C1670.4 589.7 1673.4 593.4 1676.4 597.0C1679.3 600.7 1682.2 604.3 1685.1 608.1C1688.0 611.8 1690.8 615.5 1693.6 619.3C1696.4 623.1 1699.2 626.9 1701.9 630.8C1704.6 634.6 1707.2 638.5 1709.9 642.4C1712.5 646.3 1715.1 650.2 1717.6 654.2C1720.2 658.1 1722.7 662.1 1725.1 666.1C1727.6 670.1 1730.0 674.2 1732.4 678.2C1734.7 682.3 1737.1 686.4 1739.4 690.5C1741.6 694.6 1743.9 698.7 1746.1 702.9C1748.3 707.0 1750.5 711.2 1752.6 715.4C1754.7 719.6 1756.8 723.8 1758.9 728.0C1760.9 732.3 1762.9 736.5 1764.9 740.8C1766.9 745.1 1768.8 749.3 1770.7 753.6C1772.6 758.0 1774.4 762.3 1776.2 766.6C1778.0 771.0 1779.8 775.3 1781.5 779.7C1783.3 784.0 1785.0 788.4 1786.7 792.8C1788.3 797.2 1790.0 801.6 1791.6 806.1C1793.2 810.5 1794.7 814.9 1796.3 819.3C1797.8 823.8 1799.3 828.2 1800.8 832.7C1802.3 837.2 1803.7 841.6 1805.2 846.1C1806.6 850.6 1808.0 855.1 1809.3 859.6C1810.7 864.1 1812.0 868.6 1813.3 873.1C1814.7 877.6 1816.0 882.2 1817.2 886.7C1818.5 891.2 1819.7 895.8 1821.0 900.3C1822.2 904.8 1823.4 909.4 1824.6 913.9C1825.7 918.5 1826.9 923.0 1828.0 927.6C1829.2 932.2 1830.3 936.7 1831.4 941.3C1832.5 945.9 1833.6 950.4 1834.7 955.0C1835.7 959.6 1836.8 964.2 1837.9 968.8C1838.9 973.4 1839.9 977.9 1841.0 982.5C1842.0 987.1 1843.0 991.7 1844.0 996.3C1845.0 1000.9 1846.0 1005.5 1846.9 1010.1C1847.9 1014.7 1848.9 1019.3 1849.9 1023.9C1850.8 1028.5 1851.8 1033.1 1852.7 1037.7C1853.7 1042.3 1854.6 1046.9 1855.6 1051.5C1856.5 1056.1 1857.4 1060.7 1858.4 1065.4C1859.3 1070.0 1860.2 1074.6 1861.2 1079.2C1862.1 1083.8 1863.1 1088.4 1864.0 1093.0C1864.9 1097.6 1865.8 1102.2 1866.7 1106.9C1867.6 1111.5 1868.5 1116.1 1869.6 1120.7C1870.6 1125.2 1871.8 1129.8 1872.9 1134.4C1874.1 1138.9 1875.3 1143.5 1876.4 1148.0C1877.5 1152.6 1878.6 1157.2 1879.5 1161.8C1880.5 1166.4 1881.5 1171.0 1882.4 1175.6C1883.4 1180.2 1884.3 1184.8 1885.3 1189.4C1886.2 1194.0 1887.2 1198.6 1888.3 1203.2C1889.3 1207.8 1890.4 1212.3 1891.7 1216.9C1892.9 1221.4 1894.2 1225.9 1895.6 1230.4C1897.1 1234.9 1898.6 1239.3 1900.3 1243.7C1901.9 1248.2 1903.7 1252.5 1905.5 1256.8C1907.3 1261.2 1909.2 1265.5 1911.2 1269.7C1913.2 1274.0 1915.3 1278.2 1917.4 1282.4C1919.6 1286.6 1921.8 1290.7 1924.0 1294.9C1926.3 1299.0 1928.6 1303.1 1930.8 1307.2C1933.0 1311.4 1935.3 1315.5 1937.5 1319.7C1939.6 1323.9 1941.8 1328.0 1943.7 1332.3C1945.7 1336.6 1948.3 1343.1 1949.3 1345.3" fill="none" stroke="#008000" stroke-width="7.0" stroke-linecap="round" stroke-linejoin="round" shape-rendering="crispEdges"/>
<path d="M387.5 1345.3C388.6 1343.2 391.8 1336.9 393.8 1332.7C395.9 1328.5 397.8 1324.2 399.7 1319.9C401.6 1315.6 403.5 1311.3 405.2 1306.9C407.0 1302.6 408.7 1298.2 410.4 1293.8C412.0 1289.4 413.6 1284.9 415.1 1280.5C416.7 1276.1 418.1 1271.6 419.6 1267.1C421.0 1262.6 422.3 1258.1 423.7 1253.6C425.0 1249.1 426.3 1244.6 427.5 1240.1C428.7 1235.5 429.9 1231.0 431.1 1226.4C432.2 1221.9 433.3 1217.3 434.4 1212.7C435.5 1208.1 436.5 1203.6 437.5 1199.0C438.5 1194.4 439.5 1189.8 440.5 1185.2C441.5 1180.6 442.4 1176.0 443.3 1171.4C444.2 1166.8 445.1 1162.1 446.0 1157.5C446.9 1152.9 447.8 1148.3 448.6 1143.7C449.5 1139.0 450.3 1134.4 451.2 1129.8C452.0 1125.2 452.8 1120.5 453.6 1115.9C454.5 1111.3 455.3 1106.7 456.1 1102.0C456.9 1097.4 457.7 1092.8 458.5 1088.1C459.3 1083.5 460.1 1078.9 460.9 1074.2C461.7 1069.6 462.5 1065.0 463.3 1060.4C464.2 1055.7 465.0 1051.1 465.8 1046.5C466.6 1041.8 467.4 1037.2 468.3 1032.6C469.1 1028.0 469.9 1023.3 470.8 1018.7C471.6 1014.1 472.5 1009.5 473.4 1004.9C474.2 1000.2 475.1 995.6 476.0 991.0C476.9 986.4 477.8 981.8 478.7 977.2C479.6 972.6 480.6 967.9 481.5 963.3C482.4 958.7 483.4 954.1 484.4 949.5C485.3 944.9 486.3 940.3 487.3 935.7C488.3 931.1 489.3 926.6 490.3 922.0C491.4 917.4 492.4 912.8 493.5 908.2C494.5 903.6 495.6 899.1 496.7 894.5C497.8 889.9 498.9 885.4 500.1 880.8C501.2 876.2 502.4 871.7 503.5 867.1C504.7 862.6 505.9 858.0 507.1 853.5C508.3 849.0 509.6 844.4 510.8 839.9C512.1 835.4 513.4 830.8 514.7 826.3C516.0 821.8 517.3 817.3 518.7 812.8C520.1 808.3 521.4 803.8 522.9 799.3C524.3 794.9 525.7 790.4 527.2 785.9C528.6 781.4 530.1 777.0 531.6 772.5C533.1 768.1 534.7 763.6 536.3 759.2C537.8 754.8 539.4 750.4 541.1 746.0C542.7 741.6 544.3 737.2 546.0 732.8C547.7 728.4 549.4 724.0 551.2 719.6C552.9 715.3 554.7 710.9 556.5 706.6C558.4 702.3 560.2 697.9 562.1 693.6C564.0 689.3 565.9 685.0 567.9 680.8C569.8 676.5 571.8 672.2 573.8 668.0C575.9 663.8 577.9 659.5 580.0 655.3C582.1 651.1 584.3 646.9 586.5 642.8C588.6 638.6 590.9 634.5 593.1 630.4C595.4 626.2 597.7 622.1 600.1 618.1C602.4 614.0 604.8 610.0 607.3 606.0C609.7 601.9 612.2 597.9 614.7 594.0C617.3 590.0 619.8 586.1 622.5 582.2C625.1 578.3 627.8 574.4 630.5 570.6C633.2 566.8 636.0 563.0 638.8 559.2C641.7 555.5 644.5 551.8 647.5 548.1C650.4 544.4 653.4 540.8 656.4 537.2C659.4 533.6 662.5 530.1 665.6 526.5C668.8 523.0 671.9 519.5 675.1 516.1C678.3 512.6 681.5 509.2 684.8 505.8C688.0 502.4 691.3 499.1 694.6 495.7C697.9 492.4 701.2 489.0 704.6 485.7C707.9 482.4 711.2 479.1 714.6 475.8C718.0 472.5 721.3 469.3 724.7 466.0C728.1 462.7 731.4 459.4 734.8 456.1C738.2 452.9 741.5 449.6 744.9 446.3C748.2 443.0 751.6 439.7 754.9 436.4C758.3 433.1 761.6 429.8 764.9 426.4C768.2 423.1 771.5 419.8 774.8 416.4C778.1 413.0 781.4 409.7 784.7 406.3C787.9 402.9 791.2 399.5 794.4 396.1C797.6 392.7 800.9 389.3 804.1 385.9C807.3 382.4 810.5 379.0 813.7 375.5C816.8 372.0 820.0 368.6 823.1 365.1C826.3 361.6 829.4 358.1 832.5 354.6C835.7 351.0 838.8 347.5 841.8 344.0C844.9 340.4 848.0 336.9 851.1 333.3C854.1 329.7 857.2 326.2 860.2 322.6C863.3 319.0 866.4 315.4 869.4 311.9C872.5 308.3 875.5 304.7 878.6 301.2C881.6 297.6 884.7 294.0 887.8 290.5C890.9 287.0 894.0 283.4 897.1 279.9C900.3 276.4 903.4 272.9 906.6 269.5C909.8 266.0 913.0 262.6 916.2 259.2C919.5 255.8 922.8 252.4 926.1 249.1C929.4 245.8 932.8 242.5 936.2 239.3C939.6 236.0 943.1 232.9 946.6 229.7C950.1 226.6 953.6 223.5 957.2 220.5C960.8 217.5 964.5 214.5 968.2 211.6C971.9 208.7 975.6 205.8 979.4 203.1C983.2 200.3 987.0 197.6 990.9 194.9C994.8 192.2 998.7 189.7 1002.7 187.1C1006.6 184.6 1010.6 182.2 1014.7 179.8C1018.8 177.4 1022.8 175.1 1027.0 172.9C1031.1 170.7 1035.3 168.5 1039.5 166.4C1043.7 164.3 1048.0 162.4 1052.3 160.5C1056.6 158.6 1060.9 156.7 1065.3 155.0C1069.7 153.3 1074.1 151.6 1078.5 150.1C1083.0 148.6 1087.4 147.1 1091.9 145.8C1096.4 144.4 1101.0 143.2 1105.5 142.1C1110.1 140.9 1114.7 139.9 1119.3 139.0C1123.9 138.1 1128.6 137.3 1133.2 136.7C1137.9 136.0 1142.5 135.5 1147.2 135.1C1151.9 134.7 1156.6 134.4 1161.3 134.3C1166.0 134.1 1170.7 134.1 1175.4 134.2C1180.1 134.4 1184.8 134.7 1189.5 135.1C1194.1 135.5 1198.8 136.0 1203.5 136.6C1208.1 137.3 1212.8 138.1 1217.4 139.0C1222.0 139.9 1226.6 140.9 1231.1 142.0C1235.7 143.1 1240.3 144.3 1244.8 145.7C1249.3 147.0 1253.7 148.5 1258.2 150.0C1262.6 151.5 1267.0 153.2 1271.4 154.9C1275.8 156.6 1280.1 158.4 1284.4 160.3C1288.7 162.2 1293.0 164.2 1297.2 166.3C1301.4 168.3 1305.6 170.5 1309.7 172.7C1313.9 175.0 1318.0 177.3 1322.0 179.6C1326.1 182.0 1330.1 184.4 1334.1 187.0C1338.0 189.5 1342.0 192.1 1345.8 194.7C1349.7 197.4 1353.6 200.1 1357.4 202.9C1361.1 205.6 1364.9 208.5 1368.6 211.4C1372.3 214.3 1375.9 217.3 1379.5 220.3C1383.1 223.3 1386.7 226.4 1390.2 229.5C1393.7 232.6 1397.2 235.8 1400.6 239.1C1404.0 242.3 1407.4 245.6 1410.7 248.9C1414.0 252.2 1417.3 255.6 1420.6 258.9C1423.8 262.3 1427.0 265.8 1430.2 269.2C1433.4 272.7 1436.5 276.2 1439.7 279.7C1442.8 283.2 1445.9 286.7 1449.0 290.3C1452.1 293.8 1455.2 297.4 1458.2 300.9C1461.3 304.5 1464.3 308.1 1467.4 311.6C1470.4 315.2 1473.5 318.8 1476.5 322.4C1479.6 325.9 1482.7 329.5 1485.7 333.1C1488.8 336.6 1491.9 340.2 1494.9 343.7C1498.0 347.3 1501.1 350.8 1504.2 354.3C1507.4 357.8 1510.5 361.3 1513.6 364.8C1516.8 368.3 1520.0 371.8 1523.1 375.3C1526.3 378.7 1529.5 382.2 1532.7 385.6C1535.9 389.1 1539.1 392.5 1542.4 395.9C1545.6 399.3 1548.9 402.7 1552.1 406.1C1555.4 409.5 1558.7 412.8 1562.0 416.2C1565.2 419.5 1568.6 422.9 1571.9 426.2C1575.2 429.5 1578.5 432.9 1581.9 436.2C1585.2 439.5 1588.5 442.8 1591.9 446.1C1595.3 449.3 1598.6 452.6 1602.0 455.9C1605.3 459.2 1608.7 462.5 1612.1 465.8C1615.4 469.0 1618.8 472.3 1622.2 475.6C1625.5 478.9 1628.9 482.2 1632.2 485.5C1635.5 488.8 1638.9 492.1 1642.2 495.5C1645.5 498.8 1648.7 502.2 1652.0 505.6C1655.3 509.0 1658.5 512.4 1661.7 515.9C1664.9 519.3 1668.0 522.8 1671.2 526.3C1674.3 529.8 1677.4 533.4 1680.4 537.0C1683.4 540.5 1686.4 544.2 1689.3 547.9C1692.3 551.5 1695.1 555.2 1698.0 559.0C1700.8 562.7 1703.6 566.5 1706.3 570.4C1709.0 574.2 1711.7 578.1 1714.4 581.9C1717.0 585.8 1719.6 589.8 1722.1 593.7C1724.6 597.7 1727.1 601.7 1729.6 605.7C1732.0 609.7 1734.4 613.7 1736.8 617.8C1739.1 621.9 1741.4 626.0 1743.7 630.1C1746.0 634.2 1748.2 638.3 1750.4 642.5C1752.6 646.7 1754.7 650.8 1756.8 655.0C1758.9 659.2 1761.0 663.5 1763.0 667.7C1765.1 671.9 1767.1 676.2 1769.0 680.5C1771.0 684.7 1772.9 689.0 1774.8 693.3C1776.7 697.7 1778.5 702.0 1780.3 706.3C1782.1 710.6 1783.9 715.0 1785.7 719.3C1787.4 723.7 1789.2 728.1 1790.9 732.5C1792.5 736.9 1794.2 741.3 1795.8 745.7C1797.5 750.1 1799.1 754.5 1800.6 758.9C1802.2 763.3 1803.8 767.8 1805.3 772.2C1806.8 776.7 1808.3 781.1 1809.7 785.6C1811.2 790.1 1812.6 794.5 1814.1 799.0C1815.5 803.5 1816.8 808.0 1818.2 812.5C1819.6 817.0 1820.9 821.5 1822.2 826.0C1823.5 830.5 1824.8 835.1 1826.1 839.6C1827.3 844.1 1828.6 848.7 1829.8 853.2C1831.0 857.7 1832.2 862.3 1833.4 866.8C1834.6 871.4 1835.7 875.9 1836.9 880.5C1838.0 885.1 1839.1 889.6 1840.2 894.2C1841.3 898.8 1842.4 903.3 1843.5 907.9C1844.5 912.5 1845.6 917.1 1846.6 921.7C1847.6 926.2 1848.6 930.8 1849.6 935.4C1850.6 940.0 1851.6 944.6 1852.6 949.2C1853.5 953.8 1854.5 958.4 1855.4 963.0C1856.4 967.6 1857.3 972.2 1858.2 976.8C1859.1 981.5 1860.0 986.1 1860.9 990.7C1861.8 995.3 1862.7 999.9 1863.6 1004.5C1864.4 1009.2 1865.3 1013.8 1866.1 1018.4C1867.0 1023.0 1867.8 1027.6 1868.7 1032.3C1869.5 1036.9 1870.3 1041.5 1871.2 1046.2C1872.0 1050.8 1872.8 1055.4 1873.6 1060.0C1874.4 1064.7 1875.2 1069.3 1876.0 1073.9C1876.8 1078.6 1877.6 1083.2 1878.4 1087.8C1879.2 1092.5 1880.0 1097.1 1880.8 1101.7C1881.6 1106.4 1882.4 1111.0 1883.2 1115.6C1884.0 1120.3 1884.8 1124.9 1885.6 1129.5C1886.5 1134.1 1887.3 1138.8 1888.2 1143.4C1889.1 1148.0 1890.0 1152.6 1890.9 1157.2C1891.9 1161.8 1892.8 1166.4 1893.8 1171.0C1894.8 1175.6 1895.8 1180.2 1896.8 1184.8C1897.8 1189.4 1898.9 1194.0 1899.9 1198.5C1901.0 1203.1 1902.1 1207.7 1903.3 1212.2C1904.4 1216.8 1905.6 1221.4 1906.8 1225.9C1908.0 1230.4 1909.2 1235.0 1910.5 1239.5C1911.7 1244.0 1913.1 1248.5 1914.4 1253.0C1915.7 1257.5 1917.1 1262.0 1918.6 1266.5C1920.0 1271.0 1921.5 1275.5 1923.0 1279.9C1924.5 1284.4 1926.0 1288.8 1927.6 1293.2C1929.3 1297.6 1930.9 1302.0 1932.6 1306.4C1934.3 1310.8 1936.0 1315.2 1937.8 1319.5C1939.6 1323.8 1941.5 1328.2 1943.4 1332.5C1945.3 1336.8 1948.3 1343.2 1949.2 1345.3" fill="none" stroke="#ff00ff" stroke-width="7.0" stroke-linecap="round" stroke-linejoin="round" shape-rendering="crispEdges"/>
<rect x="283.6" y="24.6" width="1770.1" height="1427.0" fill="none" stroke="#000" stroke-width="5.0" shape-rendering="crispEdges"/>
<path d="M381.5 1451.6 v-27.5 M381.5 24.6 v27.5 M578.1 1451.6 v-13.5 M578.1 24.6 v13.5 M774.7 1451.6 v-27.5 M774.7 24.6 v27.5 M971.3 1451.6 v-13.5 M971.3 24.6 v13.5 M1168.0 1451.6 v-27.5 M1168.0 24.6 v27.5 M1364.6 1451.6 v-13.5 M1364.6 24.6 v13.5 M1561.2 1451.6 v-27.5 M1561.2 24.6 v27.5 M1757.8 1451.6 v-13.5 M1757.8 24.6 v13.5 M1954.4 1451.6 v-27.5 M1954.4 24.6 v27.5 M283.6 1362.7 h27.5 M2053.7 1362.7 h-27.5 M283.6 1273.5 h13.5 M2053.7 1273.5 h-13.5 M283.6 1184.3 h27.5 M2053.7 1184.3 h-27.5 M283.6 1095.1 h13.5 M2053.7 1095.1 h-13.5 M283.6 1005.9 h27.5 M2053.7 1005.9 h-27.5 M283.6 916.7 h13.5 M2053.7 916.7 h-13.5 M283.6 827.5 h27.5 M2053.7 827.5 h-27.5 M283.6 738.3 h13.5 M2053.7 738.3 h-13.5 M283.6 649.1 h27.5 M2053.7 649.1 h-27.5 M283.6 559.9 h13.5 M2053.7 559.9 h-13.5 M283.6 470.7 h27.5 M2053.7 470.7 h-27.5 M283.6 381.5 h13.5 M2053.7 381.5 h-13.5 M283.6 292.3 h27.5 M2053.7 292.3 h-27.5 M283.6 203.1 h13.5 M2053.7 203.1 h-13.5 M283.6 113.9 h27.5 M2053.7 113.9 h-27.5" fill="none" stroke="#000" stroke-width="5.0" shape-rendering="crispEdges"/>
<text transform="translate(382.0 1544.6) scale(1 1.040)" font-size="81.0" text-anchor="middle">0</text>
<text transform="translate(775.2 1544.6) scale(1 1.040)" font-size="81.0" text-anchor="middle">0.5</text>
<text transform="translate(1168.5 1544.6) scale(1 1.040)" font-size="81.0" text-anchor="middle">1.0</text>
<text transform="translate(1561.7 1544.6) scale(1 1.040)" font-size="81.0" text-anchor="middle">1.5</text>
<text transform="translate(1954.9 1544.6) scale(1 1.040)" font-size="81.0" text-anchor="middle">2.0</text>
<text transform="translate(253.3 1387.0) scale(1 1.040)" font-size="81.0" text-anchor="end">0</text>
<text transform="translate(253.3 1208.6) scale(1 1.040)" font-size="81.0" text-anchor="end">0.4</text>
<text transform="translate(253.3 1030.2) scale(1 1.040)" font-size="81.0" text-anchor="end">0.8</text>
<text transform="translate(253.3 851.8) scale(1 1.040)" font-size="81.0" text-anchor="end">1.2</text>
<text transform="translate(253.3 673.4) scale(1 1.040)" font-size="81.0" text-anchor="end">1.6</text>
<text transform="translate(253.3 495.0) scale(1 1.040)" font-size="81.0" text-anchor="end">2.0</text>
<text transform="translate(253.3 316.6) scale(1 1.040)" font-size="81.0" text-anchor="end">2.4</text>
<text transform="translate(253.3 138.2) scale(1 1.040)" font-size="81.0" text-anchor="end">2.8</text>
<text transform="translate(1170.0 1681.8)" font-size="88.0" text-anchor="middle">Electrode spacing (mm)</text>
<text transform="translate(107.0 1277.8) rotate(-90)" font-size="88.0" text-anchor="start">Electron density (10<tspan font-size="59.0" dy="-36.6">12</tspan><tspan dy="36.6"> cm</tspan><tspan font-size="59.0" dy="-36.6">−3</tspan><tspan dy="36.6">)</tspan></text>
<path d="M871.4 950.4 H1051.6" stroke="#000000" stroke-width="7.0" stroke-linecap="round" fill="none" shape-rendering="crispEdges"/>
<text transform="translate(1073.6 977.9) scale(1 1.040)" font-size="81.0" text-anchor="start">13.56 MHz</text>
<path d="M871.4 1049.5 H1051.6" stroke="#ff0000" stroke-width="7.0" stroke-linecap="round" fill="none" shape-rendering="crispEdges"/>
<text transform="translate(1073.6 1077.0) scale(1 1.040)" font-size="81.0" text-anchor="start">27.12 MHz</text>
<path d="M871.4 1148.6 H1051.6" stroke="#0000ff" stroke-width="7.0" stroke-linecap="round" fill="none" shape-rendering="crispEdges"/>
<text transform="translate(1073.6 1176.1) scale(1 1.040)" font-size="81.0" text-anchor="start">40.68 MHz</text>
<path d="M871.4 1247.7 H1051.6" stroke="#008000" stroke-width="7.0" stroke-linecap="round" fill="none" shape-rendering="crispEdges"/>
<text transform="translate(1073.6 1275.2) scale(1 1.040)" font-size="81.0" text-anchor="start">54.24 MHz</text>
<path d="M871.4 1346.8 H1051.6" stroke="#ff00ff" stroke-width="7.0" stroke-linecap="round" fill="none" shape-rendering="crispEdges"/>
<text transform="translate(1073.6 1374.3) scale(1 1.040)" font-size="81.0" text-anchor="start">67.80 MHz</text>
</svg></body></html>
